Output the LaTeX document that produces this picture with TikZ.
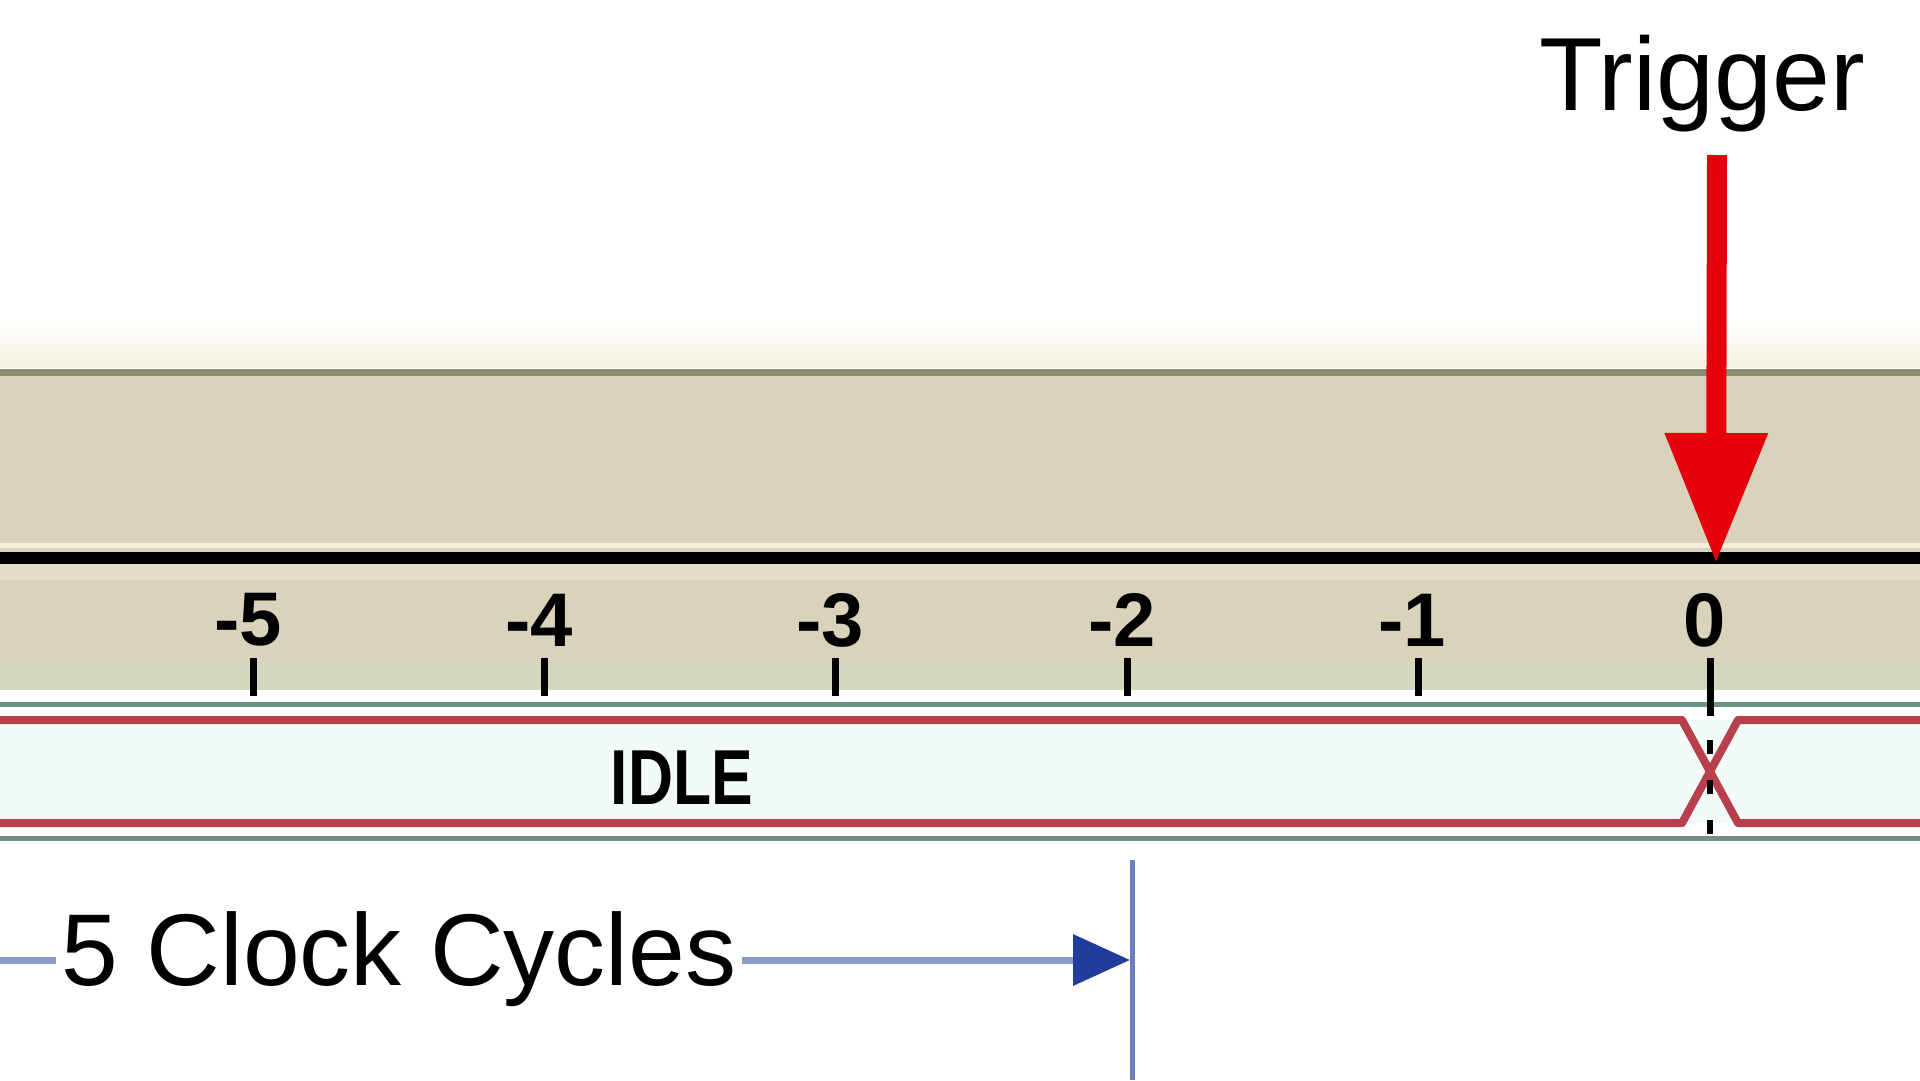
\documentclass[tikz,border=0pt]{standalone}
\usepackage{fontspec}
\setmainfont{Liberation Sans}
\usetikzlibrary{arrows.meta}
\definecolor{tanfill}{HTML}{D9D3BC}
\definecolor{tanborder}{HTML}{8E8C72}
\definecolor{creamhi}{HTML}{F4EEDB}
\definecolor{greentint}{HTML}{D4D8BE}
\definecolor{tealline}{HTML}{6E9088}
\definecolor{busred}{HTML}{B8404C}
\definecolor{businside}{HTML}{F2FAFA}
\definecolor{trigred}{HTML}{E6000B}
\definecolor{bluelight}{HTML}{8A9CCC}
\definecolor{bluenavy}{HTML}{223C9C}
\definecolor{bluemark}{HTML}{6A80C0}
\tikzset{
  ticklabel/.style={font=\bfseries\fontsize{76}{80}\selectfont, inner sep=0pt, anchor=center},
  tickmark/.style={line width=7pt, black},
  busline/.style={line width=8pt, busred, line join=round},
  tealrule/.style={line width=5pt, tealline},
  bigtext/.style={font=\fontsize{104}{120}\selectfont, inner sep=0pt, anchor=base},
}
\begin{document}
\begin{tikzpicture}[x=1pt,y=-1pt]
\useasboundingbox (0,0) rectangle (1920,1080);
\fill[white] (0,0) rectangle (1920,1080);
% faint cream above band
\shade[top color=white, bottom color=creamhi!80] (0,320) rectangle (1920,367);
% band
\fill[tanfill] (0,370) rectangle (1920,700);
\draw[line width=7pt, tanborder] (0,372) -- (1920,372);
\draw[line width=5pt, creamhi] (0,545) -- (1920,545);
\draw[line width=12pt, black] (0,558) -- (1920,558);
\fill[creamhi!40!tanfill] (0,564) rectangle (1920,580);
\fill[greentint] (0,664) rectangle (1920,690);
\fill[white] (0,690) rectangle (1920,700);
% bus
\fill[businside] (0,720) rectangle (1920,823);
\draw[tealrule] (0,704) -- (1920,704);
\draw[tealrule] (0,838) -- (1920,838);
\draw[busline] (0,720) -- (1682,720) -- (1738,823) -- (1920,823);
\draw[busline] (0,823) -- (1682,823) -- (1738,720) -- (1920,720);
\draw[line width=6pt, black, dash pattern=on 14pt off 26pt] (1710,740) -- (1710,840);
% ticks and labels
\foreach \n/\x in {m5/253, m4/544, m3/835, m2/1127, m1/1418, z0/1710}{
  \coordinate (tk\n) at (\x,658);
  \coordinate (tb\n) at (\x,696);
  \draw[tickmark] (tk\n) -- (tb\n);
}
\draw[tickmark] (1710,696) -- (1710,716);
\node[ticklabel] (lm5) at (248,620) {-5};
\node[ticklabel] (lm4) at (539,620) {-4};
\node[ticklabel] (lm3) at (830,620) {-3};
\node[ticklabel] (lm2) at (1122,620) {-2};
\node[ticklabel] (lm1) at (1412,620) {-1};
\node[ticklabel] (lz0) at (1705,620) {0};
% IDLE
\node[font=\bfseries\fontsize{78}{80}\selectfont, inner sep=0pt, xscale=0.8] (idle) at (682,778) {IDLE};
% Trigger
\node[bigtext] (trig) at (1702,110) {Trigger};
\coordinate (trigStart) at (1717,155);
\coordinate (trigEnd) at (1716,563);
\draw[line width=20pt, trigred, -{Triangle[width=98pt,length=130pt]}] (trigStart) -- (trigEnd);
% 5 Clock Cycles
\node[font=\fontsize{102}{120}\selectfont, inner ysep=0pt, inner xsep=6pt, anchor=base] (cyc) at (399,985) {5 Clock Cycles};
\coordinate (markTop) at (1132,860);
\coordinate (markBot) at (1132,1080);
\coordinate (leftEnd) at (0,960);
\coordinate (arrEnd) at (1130,960);
\draw[line width=5pt, bluemark] (markTop) -- (markBot);
\draw[line width=7pt, bluelight] (cyc.west |- leftEnd) -- (leftEnd);
\draw[line width=7pt, bluelight, -{Triangle[width=50pt,length=57pt,color=bluenavy]}] (cyc.east |- arrEnd) -- (arrEnd);
\end{tikzpicture}
\end{document}
